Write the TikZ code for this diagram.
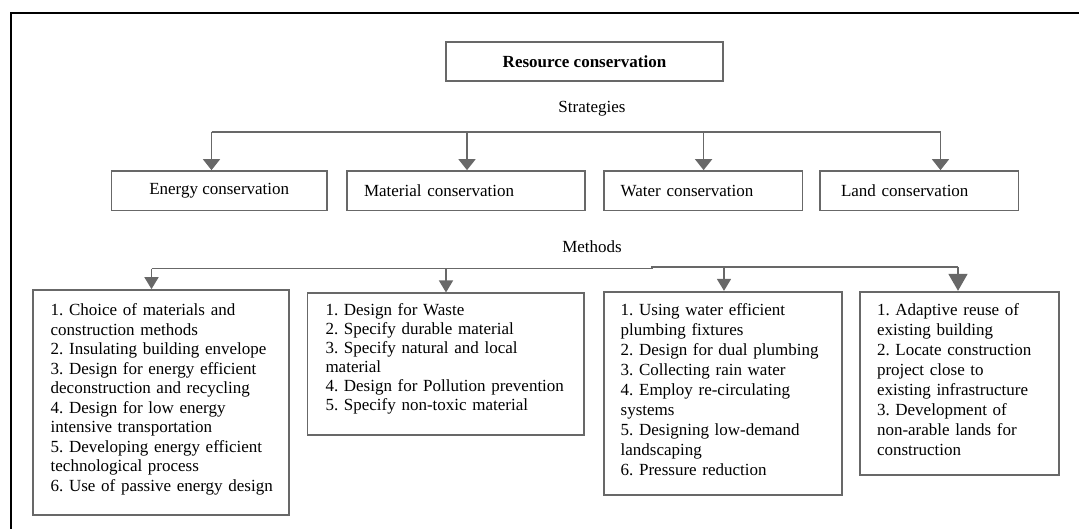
\documentclass[tikz,border=0pt]{standalone}
\usepackage{fontspec}
\setmainfont{Liberation Serif}
\usetikzlibrary{arrows.meta}
\definecolor{boxgray}{HTML}{686868}
\newcommand{\myline}[1]{\mbox{#1}}
\tikzset{
  txt/.style={font=\fontsize{17}{19.6}\selectfont, inner sep=0pt},
  sbox/.style={draw=boxgray, line width=1.7pt, fill=white, minimum height=39.5pt,
     font=\fontsize{17}{19.6}\selectfont, inner ysep=0pt},
  mbox/.style={draw=boxgray, line width=1.7pt, fill=white, align=left, inner ysep=0pt},
  conn/.style={draw=boxgray, line width=1.7pt},
  sarr/.style={conn, -{Triangle[width=17pt,length=11pt]}},
  marr/.style={conn, -{Triangle[width=14pt,length=12pt]}},
  barr/.style={conn, -{Triangle[width=19pt,length=17pt]}},
  frameline/.style={draw=black, line width=2.2pt},
}
\begin{document}
\frenchspacing
\begin{tikzpicture}[x=1pt,y=-1pt]
\useasboundingbox (0,0) rectangle (1079,529);
% frame
\coordinate (fb) at (11,529);
\coordinate (ftl) at (11,13);
\coordinate (ftr) at (1079,13);
\draw[frameline] (fb) -- (ftl) -- (ftr);

% top
\node[sbox, minimum width=277pt, minimum height=39.3pt, font=\fontsize{17}{19.6}\selectfont\bfseries] (res) at (584.5,61.65) {Resource conservation};
\node[txt] (strat) at (592,109) {Strategies};

% strategy boxes
\node[sbox, minimum width=215.5pt] (energy) at (219.25,190.75) {Energy conservation};
\node[sbox, text width=204pt, inner xsep=17pt, align=left] (material) at (466,190.75) {Material conservation};
\node[sbox, text width=164.7pt, inner xsep=17pt, align=left] (water) at (703.05,190.75) {Water conservation};
\node[sbox, text width=156.6pt, inner xsep=21pt, align=left] (land) at (919.3,190.75) {Land conservation};

\coordinate (s1) at (211.5,131.7);
\coordinate (s2) at (467,131.7);
\coordinate (s3) at (703.6,131.7);
\coordinate (s4) at (940.5,131.7);
\draw[conn] (s1) -- (s4);
\draw[sarr] (s1) -- (energy.north -| s1);
\draw[sarr] (s2) -- (material.north -| s2);
\draw[sarr] (s3) -- (water.north -| s3);
\draw[sarr] (s4) -- (land.north -| s4);

\node[txt] (meth) at (592,246.7) {Methods};

% method boxes
\node[mbox, text height=26pt, text depth=199pt, text width=220.3pt, inner xsep=18pt,
  font=\fontsize{17}{19.5}\selectfont] (b1) at (160.85,402.5) {%
\myline{1. Choice of materials and}\\
\myline{construction methods}\\
\myline{2. Insulating building envelope}\\
\myline{3. Design for energy efficient}\\
\myline{deconstruction and recycling}\\
\myline{4. Design for low energy}\\
\myline{intensive transportation}\\
\myline{5. Developing energy efficient}\\
\myline{technological process}\\
\myline{6. Use of passive energy design}};

\node[mbox, text height=22.7pt, text depth=119pt, text width=240.5pt, inner xsep=18pt,
  font=\fontsize{17}{19}\selectfont] (b2) at (445.75,364.15) {%
\myline{1. Design for Waste}\\
\myline{2. Specify durable material}\\
\myline{3. Specify natural and local}\\
\myline{material}\\
\myline{4. Design for Pollution prevention}\\
\myline{5. Specify non-toxic material}};

\node[mbox, text height=24.3pt, text depth=179pt, text width=204.3pt, inner xsep=17pt,
  font=\fontsize{17}{20}\selectfont] (b3) at (722.85,393.35) {%
\myline{1. Using water efficient}\\
\myline{plumbing fixtures}\\
\myline{2. Design for dual plumbing}\\
\myline{3. Collecting rain water}\\
\myline{4. Employ re-circulating}\\
\myline{systems}\\
\myline{5. Designing low-demand}\\
\myline{landscaping}\\
\myline{6. Pressure reduction}};

\node[mbox, text height=24.3pt, text depth=159pt, text width=165pt, inner xsep=17pt,
  font=\fontsize{17}{20}\selectfont] (b4) at (959.5,383.35) {%
\myline{1. Adaptive reuse of}\\
\myline{existing building}\\
\myline{2. Locate construction}\\
\myline{project close to}\\
\myline{existing infrastructure}\\
\myline{3. Development of}\\
\myline{non-arable lands for}\\
\myline{construction}};

\coordinate (m1) at (151.5,268.6);
\coordinate (m2) at (446,268.6);
\coordinate (mj) at (652,268.6);
\coordinate (mk) at (652,267);
\coordinate (m3) at (724,267);
\coordinate (m4) at (958,267);
\draw[conn] (m1) -- (mj) -- (mk) -- (m4);
\draw[marr] (m1) -- (b1.north -| m1);
\draw[marr] (m2) -- (b2.north -| m2);
\draw[marr] (m3) -- (b3.north -| m3);
\draw[barr] (m4) -- (b4.north -| m4);
\end{tikzpicture}
\end{document}
